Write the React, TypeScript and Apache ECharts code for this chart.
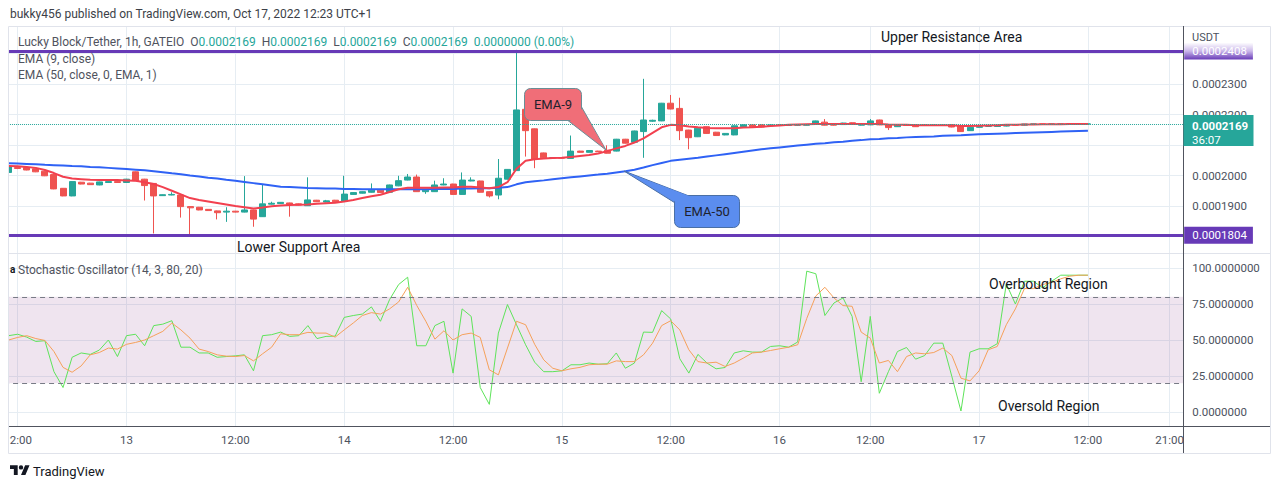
import React, { useEffect, useRef } from "react";
import * as echarts from "echarts";

const FONT = "Roboto, 'Noto Sans', sans-serif";
const UNIT = 1e-7; // prices below are stored in units of 0.0000001 USDT

const OPEN = [2010,2026,2026,2022,2014,2003,1958,1933,1978,1975,
  1969,1977,1980,1977,2012,1988,1974,1934,1936,1936,
  1898,1896,1889,1884,1880,1883,1880,1887,1865,1906,
  1908,1910,1907,1901,1919,1913,1919,1915,1938,1942,
  1945,1952,1945,1966,1985,1995,1947,1947,1969,1972,
  1938,1982,1982,1947,1936,1988,2016,2217,2153,2074,
  2058,2058,2056,2080,2076,2080,2083,2080,2119,2109,
  2144,2178,2179,2237,2220,2149,2127,2160,2142,2133,
  2133,2160,2166,2166,2163,2166,2164,2165,2165,2168,
  2175,2170,2167,2173,2165,2166,2182,2166,2160,2166,
  2166,2166,2165,2165,2166,2162,2147,2158,2161,2161,
  2162,2167,2165,2169,2169,2169,2169,2169,2169,2169];
const CLOSE = [2028,2023,2018,2012,1999,1956,1933,1980,1972,1970,
  1979,1980,1977,1988,1983,1967,1933,1937,1938,1898,
  1894,1887,1885,1878,1883,1880,1887,1857,1907,1909,
  1912,1905,1903,1920,1914,1917,1914,1939,1944,1947,
  1952,1944,1969,1983,1995,1947,1952,1969,1972,1938,
  1985,1985,1945,1933,1991,2020,2215,2147,2054,2058,
  2058,2057,2080,2076,2082,2078,2073,2119,2106,2146,
  2182,2181,2237,2218,2147,2124,2155,2138,2131,2138,
  2163,2166,2160,2159,2166,2164,2165,2165,2166,2179,
  2165,2165,2172,2168,2168,2179,2166,2157,2166,2164,
  2160,2164,2165,2165,2159,2144,2158,2161,2161,2162,
  2167,2165,2169,2169,2168,2169,2169,2169,2169,2169];
const LOW = [2008,2021,2017,2011,1998,1955,1932,1932,1971,1969,
  1968,1976,1976,1976,1982,1918,1810,1933,1935,1862,
  1807,1886,1884,1856,1848,1879,1879,1832,1864,1905,
  1907,1865,1902,1900,1913,1912,1913,1914,1937,1941,
  1944,1943,1944,1965,1984,1946,1940,1946,1968,1937,
  1937,1981,1944,1928,1922,1987,2015,2062,2024,2057,
  2056,2056,2055,2075,2075,2077,2072,2079,2105,2108,
  2058,2176,2178,2217,2116,2086,2126,2137,2130,2132,
  2132,2159,2159,2158,2162,2163,2163,2164,2164,2167,
  2164,2164,2166,2167,2164,2165,2165,2149,2159,2163,
  2159,2163,2164,2164,2158,2143,2146,2157,2160,2160,
  2161,2164,2164,2168,2167,2169,2169,2169,2169,2169];
const HIGH = [2030,2027,2027,2023,2015,2004,1959,1981,1979,1976,
  1980,1981,1981,1989,2013,1989,1975,1938,1945,1937,
  1899,1897,1890,1885,1896,1884,1998,1888,1969,1914,
  1913,1911,1908,1994,1920,1920,1920,1999,1945,1948,
  1974,1953,1970,1999,2005,2003,1953,1983,1991,1973,
  2010,1994,1983,1948,2054,2021,2412,2218,2154,2075,
  2060,2059,2131,2081,2083,2081,2099,2120,2120,2147,
  2317,2183,2238,2264,2255,2150,2156,2161,2143,2139,
  2164,2167,2167,2167,2167,2167,2166,2166,2167,2180,
  2185,2171,2173,2174,2169,2185,2183,2167,2167,2167,
  2167,2167,2166,2166,2167,2163,2159,2162,2162,2163,
  2168,2168,2169,2169,2169,2169,2169,2169,2169,2169];

const EMA9 = [2031,2030,2028,2025,2018,2008,1996,1990,1988,1986,
  1985,1985,1985,1984,1983,1978,1972,1962,1950,1938,
  1926,1920,1915,1910,1905,1900,1896,1892,1895,1899,
  1902,1903,1904,1905,1907,1909,1911,1915,1920,1926,
  1932,1937,1946,1955,1960,1960,1960,1960,1961,1961,
  1963,1963,1961,1958,1962,1978,2022,2048,2053,2056,
  2057,2058,2061,2064,2067,2072,2080,2089,2097,2108,
  2122,2140,2158,2166,2165,2161,2158,2156,2155,2155,
  2155,2157,2158,2160,2162,2164,2166,2167,2168,2169,
  2169,2169,2169,2169,2169,2169,2169,2167,2166,2166,
  2165,2165,2165,2165,2165,2162,2162,2163,2164,2165,
  2166,2166,2167,2167,2168,2168,2168,2169,2169,2169];
const EMA50 = [2040,2039,2038,2037,2035,2034,2033,2031,2030,2028,
  2027,2025,2023,2021,2019,2017,2014,2011,2007,2004,
  2000,1997,1993,1990,1986,1983,1979,1975,1971,1967,
  1963,1962,1961,1959,1958,1957,1957,1956,1956,1955,
  1955,1955,1955,1955,1955,1955,1955,1956,1956,1956,
  1957,1957,1958,1958,1960,1962,1971,1978,1981,1984,
  1988,1991,1994,1997,2000,2003,2006,2010,2014,2019,
  2026,2034,2041,2048,2052,2055,2058,2062,2066,2070,
  2074,2078,2082,2086,2089,2092,2095,2098,2101,2104,
  2106,2109,2111,2114,2116,2119,2120,2122,2123,2125,
  2126,2127,2128,2130,2131,2132,2134,2135,2136,2137,
  2138,2139,2140,2141,2142,2143,2144,2145,2146,2147];

const STOCH_K = [53,54,52,49,49.5,28,17,38,41,40,
  43,50,38.5,53,54,46,60,61,63.4,45,
  45,41,41,38,38.5,39,39.7,28.6,53,53.7,
  55.5,52.5,53,60,51,52.5,52.7,65.7,67,68,
  73,63,78,88.5,93.6,46,46,60,63,27,
  71.6,66.4,17,5.3,54.8,74.6,60.6,46.7,34.6,28,
  28,28.6,32.8,32.8,34,33.2,33.5,41,30.4,34,
  55.5,55.3,70.4,64.6,37,27,40,34,30,30.9,
  41,42.5,41.6,41.6,45.5,46,45,48.6,97.8,96,
  67,75.7,79.2,66.4,21,66.4,13,28,42,44.8,
  36.7,39.2,47.8,47.8,24.6,0.7,41.6,43.9,43.9,47.4,
  89,75,90.8,90.8,86.2,90.8,95,95,95,95];
const STOCH_D = [50,51.8,53,51,49.7,42,31,27.6,32,39.7,
  41.3,44.4,43.7,47,48.3,50,53,56,61.8,57,
  51.3,43.7,42,39.7,38.8,38.5,39.2,35.5,40.4,45,
  54.3,53.7,53.7,55.3,54.8,54.8,52,57,61.8,67,
  69,68,71.6,76.4,86.6,74,63,50.6,56.4,50,
  53.7,54.8,51.8,29.3,25.8,44.4,63,60.6,47,36.2,
  30.4,28.6,30,31,32.8,33.2,33.2,35.5,35,35,
  39.7,47.8,60,63.4,57,43.2,35,34,34.6,31.6,
  34,37.4,41,41.6,42.7,43.9,45,46.7,65,80.6,
  86.6,79.2,73.9,73.4,55.5,51.3,34,35.8,28,38.5,
  41,40.4,41.3,44.4,39.2,23.5,21.6,28.6,43.2,45.5,
  60.6,71.6,85.7,85.7,88.5,90,92.5,94.3,95,95];

const RESISTANCE = 2408;
const SUPPORT = 1804;
const LAST_PRICE = 2169;
const COUNTDOWN = "36:07";
const STOCH_UPPER = 80;
const STOCH_LOWER = 20;
// price ticks that sit fully under the axis price boxes (purple / teal) and are not shown
const HIDDEN_PRICE_TICKS = [1800, 2100, 2400];

const CATEGORY_COUNT = 130;
const TIME_LABEL_INDEX = [1, 13, 25, 37, 49, 61, 73, 85, 95, 107, 119, 128];
const TIME_LABEL_TEXT = ["12:00", "13", "12:00", "14", "12:00", "15", "12:00", "16", "12:00", "17", "12:00", "21:00"];

const fmt = (v: number) => (v * UNIT).toFixed(7);

const UP = "#26a69a";
const DOWN = "#ef5350";
const PURPLE = "#673ab7";
const AXIS_TEXT = "#4c525e";
const GRID = "#e6edf3";

const LOGO_D = "M14 22H7V11H0V4h14v18zM28 22h-8l7.5-18h8L28 22zM24 8a4 4 0 1 1-8 0 4 4 0 0 1 8 0z";
let logoRegistered = false;
function ensureLogo() {
  if (logoRegistered) return;
  echarts.graphic.registerShape("tvlogo", (echarts.graphic as any).extendPath(LOGO_D, {}));
  logoRegistered = true;
}

function buildOption(): any {
  const cats = Array.from({ length: CATEGORY_COUNT }, (_, i) => String(i));
  const labelAt = (idx: number) => TIME_LABEL_INDEX.indexOf(idx) >= 0;
  const candles = OPEN.map((o, i) => [o, CLOSE[i], LOW[i], HIGH[i]]);
  const lineLabel = (bg: any) => ({
    show: true,
    position: "end",
    distance: 1,
    formatter: (p: any) => fmt(p.value),
    color: "#ffffff",
    backgroundColor: bg,
    padding: [2, 6, 2, 8],
    fontSize: 11.5,
    lineHeight: 13,
    fontFamily: FONT,
  });
  return {
    animation: false,
    backgroundColor: "#ffffff",
    textStyle: { fontFamily: FONT },
    grid: [
      { left: 8.6, width: 1170.0, top: 26, height: 400 },
      { left: 4.07, width: 1179.1, top: 23, height: 244 },
      { left: 4.07, width: 1179.1, top: 268, height: 144 },
    ],
    xAxis: [
      {
        type: "category", gridIndex: 0, data: cats, boundaryGap: false,
        axisLine: { show: false }, axisTick: { show: false },
        axisLabel: {
          interval: (idx: number) => labelAt(idx),
          formatter: (_v: string, idx: number) => TIME_LABEL_TEXT[TIME_LABEL_INDEX.indexOf(idx)] || "",
          color: AXIS_TEXT, fontSize: 11.5, fontFamily: FONT, margin: 8,
        },
        splitLine: { show: true, interval: (idx: number) => labelAt(idx), lineStyle: { color: GRID, width: 1 } },
      },
      { type: "category", gridIndex: 1, data: cats, show: false },
      { type: "category", gridIndex: 2, data: cats, show: false },
    ],
    yAxis: [
      { type: "value", gridIndex: 0, show: false, min: 0, max: 1, splitLine: { show: false } },
      {
        type: "value", gridIndex: 1, position: "right", min: 1700, max: 2500, interval: 100,
        axisLine: { show: false }, axisTick: { show: false },
        axisLabel: {
          formatter: (v: number) => (v < 1800 || v > 2400 || HIDDEN_PRICE_TICKS.indexOf(v) >= 0 ? "" : fmt(v)),
          color: AXIS_TEXT, fontSize: 11.5, fontFamily: FONT, margin: 9,
          showMinLabel: false, showMaxLabel: false,
        },
        splitLine: { show: true, showMinLine: false, showMaxLine: false, lineStyle: { color: GRID } },
      },
      {
        type: "value", gridIndex: 2, position: "right", min: 0, max: 100, interval: 25,
        axisLine: { show: false }, axisTick: { show: false },
        axisLabel: { formatter: (v: number) => v.toFixed(7), color: AXIS_TEXT, fontSize: 11.5, fontFamily: FONT, margin: 9 },
        splitLine: { show: true, lineStyle: { color: GRID } },
      },
    ],
    series: [
      {
        type: "candlestick", xAxisIndex: 1, yAxisIndex: 1, data: candles, barWidth: 6.5, silent: true,
        itemStyle: { color: UP, color0: DOWN, borderColor: UP, borderColor0: DOWN, borderWidth: 1 },
        markLine: {
          silent: true, symbol: ["none", "none"], animation: false,
          data: [
            {
              yAxis: RESISTANCE,
              lineStyle: { color: PURPLE, width: 3, type: "solid" },
              label: lineLabel({
                type: "linear", x: 0, y: 0, x2: 0, y2: 1,
                colorStops: [{ offset: 0, color: "#ffffff" }, { offset: 0.5, color: "#cbb8ea" }, { offset: 1, color: PURPLE }],
              }),
            },
            { yAxis: SUPPORT, lineStyle: { color: PURPLE, width: 3, type: "solid" }, label: lineLabel(PURPLE) },
            { yAxis: LAST_PRICE, lineStyle: { color: UP, width: 1, type: "dotted" }, label: { show: false } },
          ],
        },
      },
      {
        type: "line", name: "EMA 50", xAxisIndex: 1, yAxisIndex: 1, data: EMA50, symbol: "none", silent: true,
        lineStyle: { color: "#2f62f5", width: 2 }, z: 3,
      },
      {
        type: "line", name: "EMA 9", xAxisIndex: 1, yAxisIndex: 1, data: EMA9, symbol: "none", silent: true,
        lineStyle: { color: "#f2404f", width: 2 }, z: 4,
      },
      {
        type: "line", name: "%K", xAxisIndex: 2, yAxisIndex: 2, data: STOCH_K, symbol: "none", silent: true,
        lineStyle: { color: "#5ee35a", width: 1 },
        markArea: {
          silent: true,
          itemStyle: { color: "rgba(120,30,120,0.12)" },
          data: [[{ yAxis: STOCH_LOWER }, { yAxis: STOCH_UPPER }]],
        },
        markLine: {
          silent: true, symbol: ["none", "none"], label: { show: false },
          lineStyle: { color: "#787b86", width: 1, type: [5, 4] },
          data: [{ yAxis: STOCH_UPPER }, { yAxis: STOCH_LOWER }],
        },
      },
      {
        type: "line", name: "%D", xAxisIndex: 2, yAxisIndex: 2, data: STOCH_D, symbol: "none", silent: true,
        lineStyle: { color: "#f5a05a", width: 1 },
      },
    ],
  };
}

function txt(x: number, y: number, text: string, size: number, fill: string, extra: any = {}) {
  return {
    type: "text", x, y, silent: true, z: 100,
    style: { text, fontSize: size, fontFamily: FONT, fill, verticalAlign: "middle", align: "left", ...extra },
  };
}

function buildGraphic(py: number): any[] {
  const last = OPEN.length - 1;
  const chg = CLOSE[last] - CLOSE[last - 1];
  const pct = ((chg / CLOSE[last - 1]) * 100).toFixed(2);
  const legend = `{n|Lucky Block/Tether, 1h, GATEIO}  {n|O}{v|${fmt(OPEN[last])}}  {n|H}{v|${fmt(HIGH[last])}}  {n|L}{v|${fmt(LOW[last])}}  {n|C}{v|${fmt(CLOSE[last])}}  {v|${fmt(chg)} (${pct}%)}`;
  const nStyle = { fill: "#50535e", color: "#50535e", fontSize: 12, fontFamily: FONT };
  const vStyle = { fill: UP, color: UP, fontSize: 12, fontFamily: FONT };
  const ema9Fill = "#f06e78";
  const ema50Fill = "#5b8def";
  return [
    { type: "rect", silent: true, z: 55, shape: { x: 0, y: 20, width: 8.5, height: 440 }, style: { fill: "#ffffff" } },
    { type: "rect", silent: true, z: 60, shape: { x: 8.5, y: 26.5, width: 1262, height: 427 }, style: { fill: "none", stroke: "#e0e3eb", lineWidth: 1 } },
    { type: "line", silent: true, z: 60, shape: { x1: 9, y1: 253.5, x2: 1270, y2: 253.5 }, style: { stroke: "#e0e3eb", lineWidth: 1 } },
    { type: "line", silent: true, z: 60, shape: { x1: 9, y1: 426.5, x2: 1270, y2: 426.5 }, style: { stroke: "#50535e", lineWidth: 1 } },
    { type: "line", silent: true, z: 60, shape: { x1: 1183.5, y1: 26, x2: 1183.5, y2: 453 }, style: { stroke: "#50535e", lineWidth: 1 } },

    txt(10, 14, "bukky456 published on TradingView.com, Oct 17, 2022 12:23 UTC+1", 12, "#3c3f48"),
    { type: "text", x: 18, y: 42, silent: true, z: 100, style: { text: legend, rich: { n: nStyle, v: vStyle }, fontSize: 12, fontFamily: FONT, fill: "#50535e", verticalAlign: "middle" } },
    txt(18, 59, "EMA (9, close)", 12, "#50535e"),
    txt(18, 75, "EMA (50, close, 0, EMA, 1)", 12, "#50535e"),
    txt(1192, 37, "USDT", 11, AXIS_TEXT),

    txt(10, 269, "a", 10, "#131722", { fontWeight: "bold" }),
    txt(18, 270, "Stochastic Oscillator (14, 3, 80, 20)", 12, "#50535e"),

    txt(881, 37, "Upper Resistance Area", 14, "#131722"),
    txt(237, 247, "Lower Support Area", 14, "#131722"),
    txt(989, 284, "Overbought Region", 14, "#131722"),
    txt(998, 406, "Oversold Region", 14, "#131722"),

    // current price label
    { type: "rect", silent: true, z: 100, shape: { x: 1183.5, y: py - 9, width: 70, height: 31 }, style: { fill: UP } },
    txt(1192, py + 2.5, fmt(LAST_PRICE), 11.5, "#ffffff", { fontWeight: "bold" }),
    txt(1192, py + 16.5, COUNTDOWN, 11.5, "#ffffff"),

    // EMA-9 callout
    { type: "polygon", silent: true, z: 100, shape: { points: [[566, 119], [581, 106], [606, 150]] }, style: { fill: ema9Fill, stroke: "#6a8d96", lineWidth: 1 } },
    { type: "rect", silent: true, z: 101, shape: { x: 524.5, y: 88.5, width: 57, height: 32, r: 6 }, style: { fill: ema9Fill, stroke: "#6a8d96", lineWidth: 1 } },
    { type: "polygon", silent: true, z: 102, shape: { points: [[567.5, 118.2], [580.3, 107.2], [604, 146.5]] }, style: { fill: ema9Fill } },
    { type: "text", x: 553, y: 104, silent: true, z: 103, style: { text: "EMA-9", fontSize: 13, fontFamily: FONT, fill: "#1e222d", align: "center", verticalAlign: "middle" } },

    // EMA-50 callout
    { type: "polygon", silent: true, z: 100, shape: { points: [[624, 171], [702, 201], [680, 206]] }, style: { fill: ema50Fill, stroke: "#4a6fa5", lineWidth: 1 } },
    { type: "rect", silent: true, z: 101, shape: { x: 674.5, y: 195.5, width: 65, height: 32, r: 6 }, style: { fill: ema50Fill, stroke: "#4a6fa5", lineWidth: 1 } },
    { type: "polygon", silent: true, z: 102, shape: { points: [[628, 173], [701, 200.5], [681, 205]] }, style: { fill: ema50Fill } },
    { type: "text", x: 707, y: 211, silent: true, z: 103, style: { text: "EMA-50", fontSize: 13, fontFamily: FONT, fill: "#1e222d", align: "center", verticalAlign: "middle" } },

    // footer logo
    { type: "tvlogo", x: 10, y: 463, scaleX: 0.55, scaleY: 0.55, silent: true, z: 100, style: { fill: "#131722" } },
    txt(33, 471, "TradingView", 13, "#131722"),
  ];
}

export default function App() {
  const ref = useRef<HTMLDivElement>(null);
  useEffect(() => {
    if (!ref.current) return;
    ensureLogo();
    const chart = echarts.init(ref.current, undefined, { renderer: "svg", width: 1280, height: 489 });
    chart.setOption(buildOption());
    const py = chart.convertToPixel({ yAxisIndex: 1 } as any, LAST_PRICE) as unknown as number;
    chart.setOption({ graphic: buildGraphic(py) });
    return () => chart.dispose();
  }, []);
  return (
    <div
      ref={ref}
      style={{ position: "fixed", left: 0, top: 0, width: 1280, height: 489, background: "#ffffff" }}
    />
  );
}
